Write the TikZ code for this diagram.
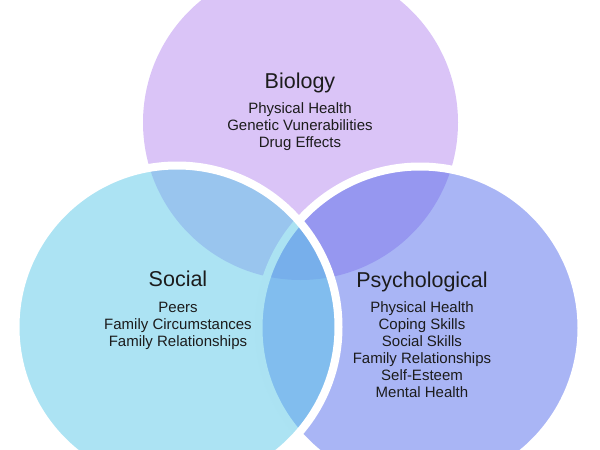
\documentclass[tikz,border=0pt]{standalone}
\usepackage{fontspec}
\setmainfont{Liberation Sans}
\definecolor{biofill}{HTML}{DAC4F7}
\definecolor{socfill}{HTML}{59C7E7}
\definecolor{psyfill}{HTML}{536BEB}
\definecolor{txt}{HTML}{1C1C1C}
\begin{document}
\begin{tikzpicture}[x=1pt,y=-1pt,
  ring/.style={draw=white, line width=8pt, fill opacity=0.5},
  ttl/.style={font=\fontsize{21.5}{24}\selectfont, text=txt, anchor=base, inner sep=0pt},
  itm/.style={font=\fontsize{15}{17}\selectfont, text=txt, anchor=base, inner sep=0pt}]
\useasboundingbox (0,0) rectangle (600,450);
% circles
\fill[biofill] (300.5,122.5) circle[radius=157.5pt];
\path[ring, fill=psyfill] (420,328) circle[radius=161.5pt];
\path[ring, fill=socfill] (177,327) circle[radius=161.5pt];
% Biology
\node[ttl] (bioT) at (300,88) {Biology};
\node[itm] (bio1) at (300,113) {Physical Health};
\node[itm] (bio2) at (300,130) {Genetic Vunerabilities};
\node[itm] (bio3) at (300,147) {Drug Effects};
% Social
\node[ttl] (socT) at (178,286) {Social};
\node[itm] (soc1) at (178,312) {Peers};
\node[itm] (soc2) at (178,329) {Family Circumstances};
\node[itm] (soc3) at (178,346) {Family Relationships};
% Psychological
\node[ttl] (psyT) at (422,287) {Psychological};
\node[itm] (psy1) at (422,312) {Physical Health};
\node[itm] (psy2) at (422,329) {Coping Skills};
\node[itm] (psy3) at (422,346) {Social Skills};
\node[itm] (psy4) at (422,363) {Family Relationships};
\node[itm] (psy5) at (422,380) {Self-Esteem};
\node[itm] (psy6) at (422,397) {Mental Health};
\end{tikzpicture}
\end{document}
